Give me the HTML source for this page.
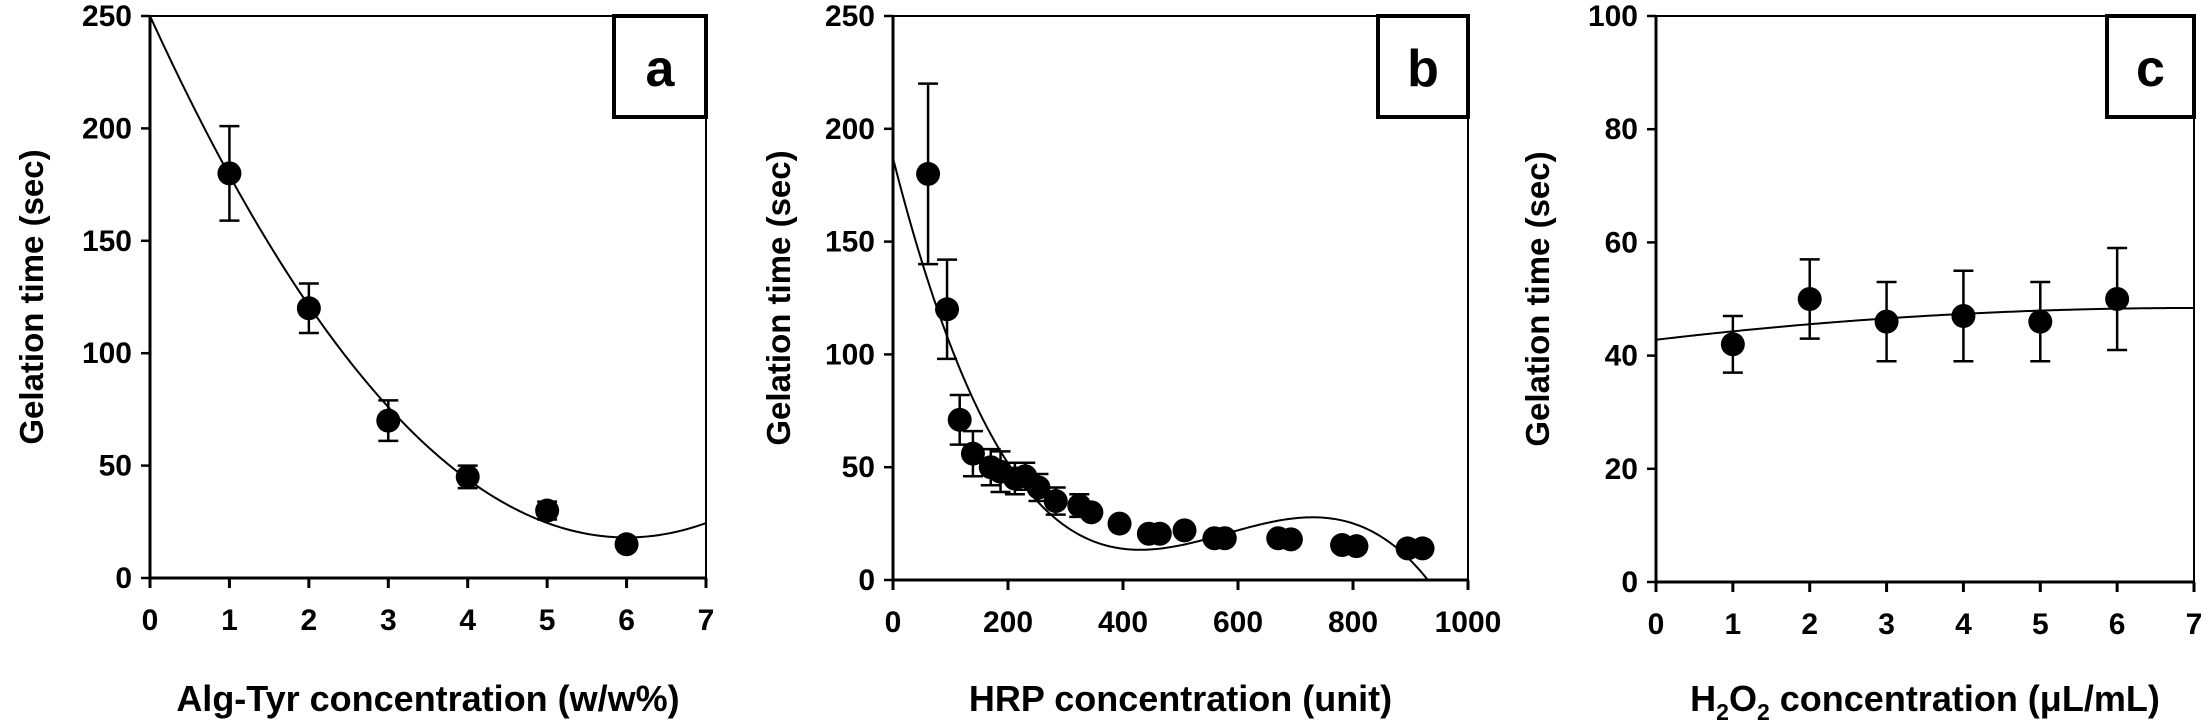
<!DOCTYPE html>
<html><head><meta charset="utf-8">
<style>
html,body{margin:0;padding:0;background:#fff;}
svg{display:block;}
text{font-family:"Liberation Sans",Arial,sans-serif;font-weight:bold;fill:#000;}
</style></head>
<body>
<svg id="fig" width="2205" height="722" viewBox="0 0 2205 722" xmlns="http://www.w3.org/2000/svg"></svg>
<script>
// ---- Panel a data ----
const aX = [1, 2, 3, 4, 5, 6];
const aY = [180, 120, 70, 45, 30, 15];
const aErr = [21, 11, 9, 5, 4, 2];
const aFit = [250, -77.3, 6.44]; // quadratic trendline coefficients
const aXTicks = [0, 1, 2, 3, 4, 5, 6, 7];
const aYTicks = [0, 50, 100, 150, 200, 250];

// ---- Panel b data ----
const bX = [61, 94, 116, 139, 170, 187, 212, 230, 253, 283, 324, 345, 394, 445, 464, 507, 559, 577, 670, 692, 781, 806, 895, 921];
const bY = [180, 120, 71, 56, 50, 48, 45, 46, 41, 35, 33, 30, 25, 20.5, 20.5, 22, 18.5, 18.5, 18.5, 18, 15.5, 15, 14, 14];
const bErr = [40, 22, 11, 10, 8, 9, 7, 6, 6, 6, 5, 0, 0, 0, 0, 0, 0, 0, 0, 0, 0, 0, 0, 0];
const bFit = [187, -1.0048, 1.8566e-3, -1.067e-6]; // cubic trendline coefficients
const bXTicks = [0, 200, 400, 600, 800, 1000];
const bYTicks = [0, 50, 100, 150, 200, 250];

// ---- Panel c data ----
const cX = [1, 2, 3, 4, 5, 6];
const cY = [42, 50, 46, 47, 46, 50];
const cErr = [5, 7, 7, 8, 7, 9];
const cFit = [42.8, 1.6, -0.114];
const cXTicks = [0, 1, 2, 3, 4, 5, 6, 7];
const cYTicks = [0, 20, 40, 60, 80, 100];

const NS = "http://www.w3.org/2000/svg";
const svg = document.getElementById('fig');
function mk(tag, attrs, parent) {
  const e = document.createElementNS(NS, tag);
  for (const k in attrs) e.setAttribute(k, attrs[k]);
  (parent || svg).appendChild(e);
  return e;
}

function panel(cfg) {
  const g = mk('g', {});
  
  
  const sx = v => cfg.x0 + (v - cfg.xmin) / (cfg.xmax - cfg.xmin) * (cfg.x1 - cfg.x0);
  const sy = v => cfg.y0 - (v - cfg.ymin) / (cfg.ymax - cfg.ymin) * (cfg.y0 - cfg.y1);

  const fr = mk('rect', {x: cfg.x0, y: cfg.y1, width: cfg.x1 - cfg.x0, height: cfg.y0 - cfg.y1, fill: 'none', stroke: '#000', 'stroke-width': 2}, g);
  
  
  const xa = mk('line', {x1: cfg.x0, y1: cfg.y0, x2: cfg.x1, y2: cfg.y0, stroke: '#000', 'stroke-width': 3}, g);
  
  
  const ya = mk('line', {x1: cfg.x0, y1: cfg.y0, x2: cfg.x0, y2: cfg.y1, stroke: '#000', 'stroke-width': 3}, g);
  
  

  cfg.xticks.forEach(t => {
    const X = sx(t);
    const tk = mk('line', {x1: X, y1: cfg.y0, x2: X, y2: cfg.y0 + 10, stroke: '#000', 'stroke-width': 3}, g);
    
    
    const lb = mk('text', {x: X, y: cfg.y0 + 52, 'text-anchor': 'middle', 'font-size': 30}, g);
    lb.textContent = String(t);
    
    
  });
  cfg.yticks.forEach(t => {
    const Y = sy(t);
    const tk = mk('line', {x1: cfg.x0 - 9, y1: Y, x2: cfg.x0, y2: Y, stroke: '#000', 'stroke-width': 2.5}, g);
    
    
    const lb = mk('text', {x: cfg.x0 - 18, y: Y + 10, 'text-anchor': 'end', 'font-size': 30}, g);
    lb.textContent = String(t);
    
    
  });

  let d = '';
  const N = 200;
  for (let i = 0; i <= N; i++) {
    const v = cfg.xmin + (cfg.xmax - cfg.xmin) * i / N;
    let y = 0;
    cfg.fit.forEach((c, k) => { y += c * Math.pow(v, k); });
    if (y < cfg.ymin) { if (d) break; else continue; }
    d += (d ? 'L' : 'M') + sx(v).toFixed(2) + ',' + sy(y).toFixed(2);
  }
  const cv = mk('path', {d: d, fill: 'none', stroke: '#000', 'stroke-width': 2}, g);
  
  

  cfg.xs.forEach((xv, i) => {
    const X = sx(xv), e = cfg.err[i];
    if (e > 0) {
      const hi = sy(cfg.ys[i] + e), lo = sy(cfg.ys[i] - e);
      const eb = mk('path', {d: `M${X},${hi}L${X},${lo}M${X - 10},${hi}L${X + 10},${hi}M${X - 10},${lo}L${X + 10},${lo}`, stroke: '#000', 'stroke-width': 2.5, fill: 'none'}, g);
      
      
    }
  });
  cfg.xs.forEach((xv, i) => {
    const p = mk('circle', {cx: sx(xv), cy: sy(cfg.ys[i]), r: 12, fill: '#000'}, g);
    
    
  });

  const bx = mk('rect', {x: cfg.boxX, y: cfg.y1, width: cfg.x1 - cfg.boxX, height: 101, fill: '#fff', stroke: '#000', 'stroke-width': 4}, g);
  
  
  const bl = mk('text', {x: (cfg.boxX + cfg.x1) / 2, y: cfg.y1 + 70, 'text-anchor': 'middle', 'font-size': 52}, g);
  bl.textContent = cfg.id;
  
  

  const yt = mk('text', {x: 0, y: 0, 'text-anchor': 'middle', 'font-size': 33, transform: `translate(${cfg.ytX},${(cfg.y0 + cfg.y1) / 2}) rotate(-90)`}, g);
  yt.textContent = 'Gelation time (sec)';
  
  
  const xt = mk('text', {x: (cfg.x0 + cfg.x1) / 2, y: 711, 'text-anchor': 'middle', 'font-size': 36}, g);
  xt.innerHTML = cfg.xtitle;
  
  
}

panel({id: 'a', x0: 150, x1: 706, y0: 578, y1: 16, xmin: 0, xmax: 7, ymin: 0, ymax: 250,
  xs: aX, ys: aY, err: aErr, fit: aFit, xticks: aXTicks, yticks: aYTicks, boxX: 614, ytX: 43,
  xtitle: 'Alg-Tyr concentration (w/w%)'});
panel({id: 'b', x0: 893, x1: 1468, y0: 580, y1: 16, xmin: 0, xmax: 1000, ymin: 0, ymax: 250,
  xs: bX, ys: bY, err: bErr, fit: bFit, xticks: bXTicks, yticks: bYTicks, boxX: 1378, ytX: 790,
  xtitle: 'HRP concentration (unit)'});
panel({id: 'c', x0: 1656, x1: 2194, y0: 582, y1: 16, xmin: 0, xmax: 7, ymin: 0, ymax: 100,
  xs: cX, ys: cY, err: cErr, fit: cFit, xticks: cXTicks, yticks: cYTicks, boxX: 2107, ytX: 1549,
  xtitle: 'H<tspan font-size="23" dy="9">2</tspan><tspan dy="-9">O</tspan><tspan font-size="23" dy="9">2</tspan><tspan dy="-9"> concentration (μL/mL)</tspan>'});
</script>
</body></html>
